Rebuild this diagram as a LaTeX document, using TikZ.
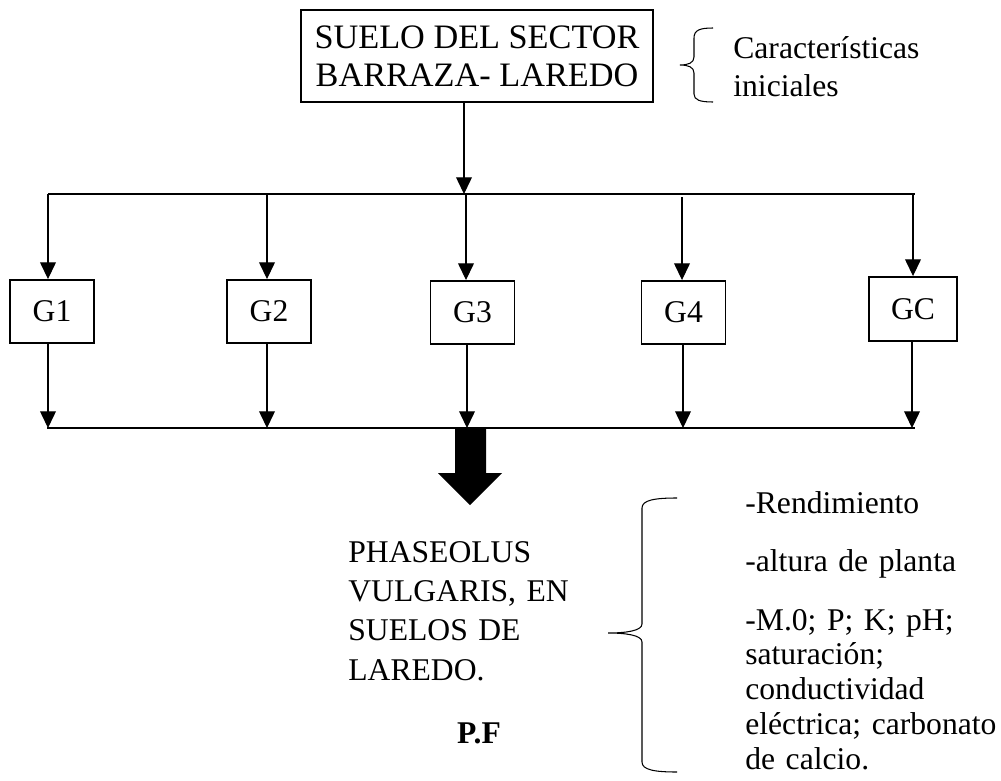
\documentclass[tikz,border=0pt]{standalone}
\usepackage{fontspec}
\setmainfont{Liberation Serif}
\usetikzlibrary{arrows.meta}
\begin{document}
\begin{tikzpicture}[x=0.02cm,y=-0.02cm,
  every node/.style={font=\fontsize{18}{21.5}\selectfont},
  boxnode/.style={draw,line width=1.1pt,minimum width=1.68cm,minimum height=1.26cm,inner sep=0pt},
  conn/.style={line width=0.6pt,-{Triangle[width=9pt,length=9.5pt]}},
  bus/.style={line width=0.6pt},
  bracepath/.style={line width=0.6pt},
  txt/.style={inner sep=0pt,anchor=base west,align=left,text width=6cm}]
\useasboundingbox (0,0) rectangle (1001,781);

% top box
\node[boxnode,minimum width=7.04cm,minimum height=1.84cm,align=center,font=\fontsize{19.5}{21.5}\selectfont] (top) at (477,56) {SUELO DEL SECTOR\\BARRAZA- LAREDO};

% small brace and its text
\draw[bracepath] (713,28) .. controls (700,28) and (694,30) .. (694,38) -- (694,57)
  .. controls (694,63) and (688,65) .. (680,65)
  .. controls (688,65) and (694,67) .. (694,73) -- (694,94)
  .. controls (694,100) and (700,102) .. (713,102);
\node[txt,font=\fontsize{18}{22.1}\selectfont] (carac) at (733,58) {Características\\iniciales};

% group boxes
\node[boxnode] (g1) at (52,311.5) {G1};
\node[boxnode] (g2) at (269,311.5) {G2};
\node[boxnode] (g3) at (472.5,312.5) {G3};
\node[boxnode] (g4) at (683.5,312.5) {G4};
\node[boxnode,minimum width=1.76cm,minimum height=1.28cm] (gc) at (913,309) {GC};

% top bus
\coordinate (tl) at (48,194);
\coordinate (tr) at (915,194);
\coordinate (tb) at (464,194);
\coordinate (t1) at (48,194);
\coordinate (t2) at (267,194);
\coordinate (t3) at (466,194);
\coordinate (t4) at (682,197);
\coordinate (t5) at (913,194);
\draw[bus] (tl) -- (tr);
\draw[conn] (tb |- top.south) -- (tb);
\draw[conn] (t1) -- (t1 |- g1.north);
\draw[conn] (t2) -- (t2 |- g2.north);
\draw[conn] (t3) -- (t3 |- g3.north);
\draw[conn] (t4) -- (t4 |- g4.north);
\draw[conn] (t5) -- (t5 |- gc.north);

% bottom bus
\coordinate (bl) at (47,428);
\coordinate (br) at (915,428);
\coordinate (b1) at (48,428);
\coordinate (b2) at (267,428);
\coordinate (b3) at (467,428);
\coordinate (b4) at (683,428);
\coordinate (b5) at (912,428);
\draw[bus] (bl) -- (br);
\draw[conn] (b1 |- g1.south) -- (b1);
\draw[conn] (b2 |- g2.south) -- (b2);
\draw[conn] (b3 |- g3.south) -- (b3);
\draw[conn] (b4 |- g4.south) -- (b4);
\draw[conn] (b5 |- gc.south) -- (b5);

% big block arrow
\fill (455,428) -- (486,428) -- (486,473) -- (502,473) -- (470,505) -- (438,473) -- (455,473) -- cycle;

% result text
\node[txt,font=\fontsize{18}{22.4}\selectfont] (phas) at (348,562) {PHASEOLUS\\VULGARIS, EN\\SUELOS DE\\LAREDO.};
\node[inner sep=0pt,anchor=base,font=\fontsize{18}{22}\selectfont\bfseries] (pf) at (479,743) {P.F};

% big brace
\draw[bracepath] (677,498) .. controls (655,498) and (642,500) .. (642,508) -- (642,624)
  .. controls (642,631) and (625,633) .. (608,633)
  .. controls (625,633) and (642,635) .. (642,642) -- (642,762)
  .. controls (642,770) and (655,772) .. (677,772);

% parameters
\node[txt] (r1) at (745,513) {-Rendimiento};
\node[txt] (r2) at (745,571) {-altura de planta};
\node[txt,font=\fontsize{18}{19.8}\selectfont] (r3) at (745,630) {-M.0; P; K; pH;\\saturación;\\conductividad\\eléctrica; carbonato\\de calcio.};
\end{tikzpicture}
\end{document}
